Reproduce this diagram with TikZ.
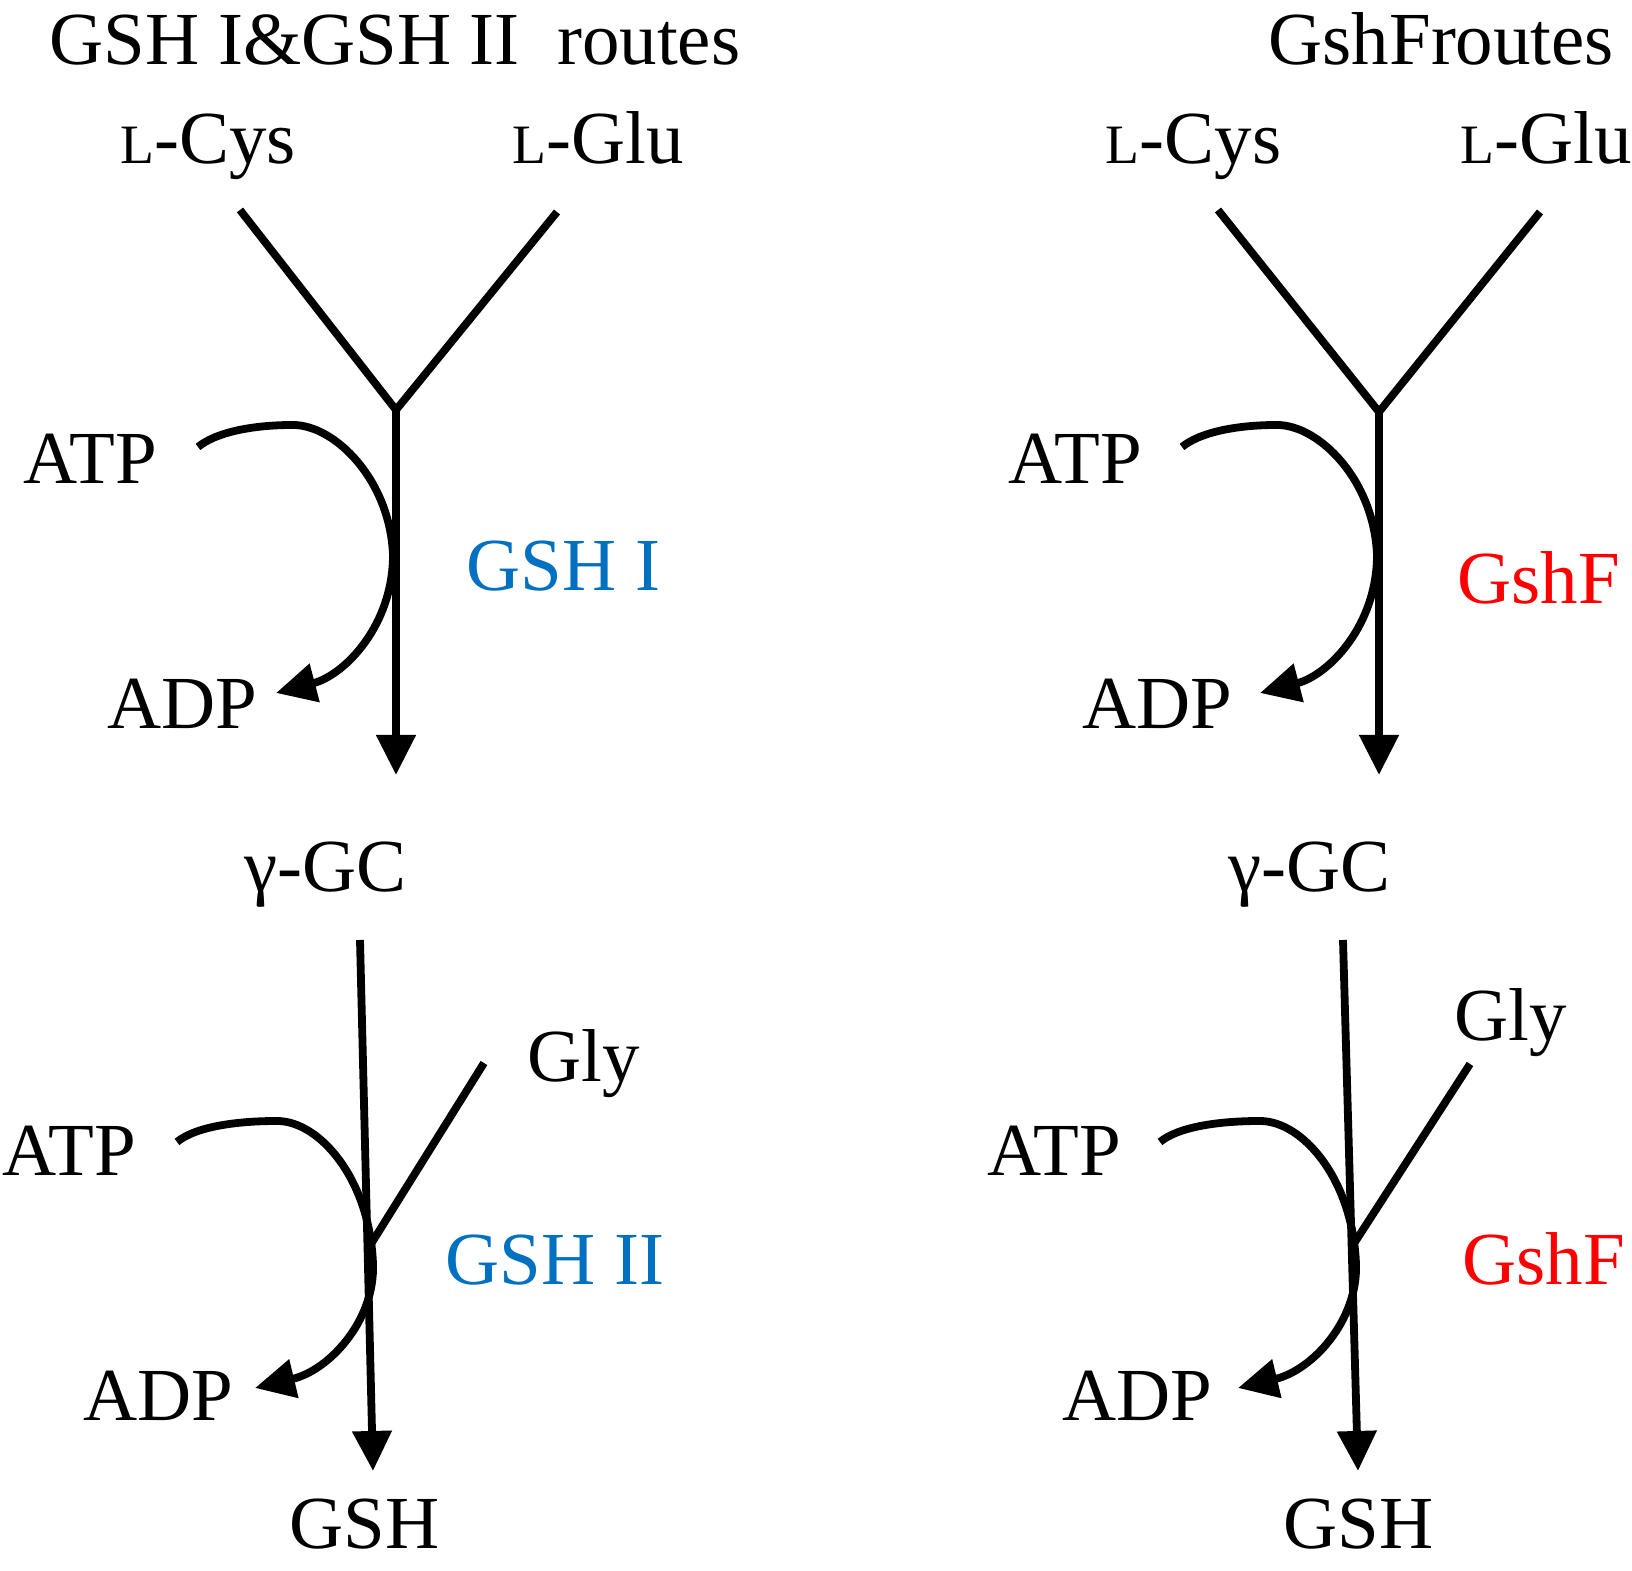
\documentclass[tikz,border=0pt]{standalone}
\usepackage{fontspec}
\setmainfont{Liberation Serif}
\usepackage{tikz}
\usetikzlibrary{arrows.meta}
\definecolor{enzblue}{RGB}{0,112,192}
\definecolor{enzred}{RGB}{255,0,0}
\newcommand{\lblfont}{\fontsize{21.3pt}{25pt}\selectfont}
\newcommand{\smallL}{{\fontsize{15.8pt}{18pt}\selectfont L}}

\begin{document}
\begin{tikzpicture}[
  x=0.01cm, y=-0.01cm,
  lbl/.style={anchor=base west, inner sep=0pt, font=\lblfont},
  enz/.style={lbl, color=#1},
  link/.style={line width=0.078cm},
  arrow/.style={link, -{Triangle[length=0.4cm, width=0.38cm]}}
]
\useasboundingbox (0,0) rectangle (1632,1571);

% --- GSH I & GSH II routes ---
\node[lbl] (title_gsh) at (49,65) {GSH I\&GSH II\ \ routes};
\node[lbl] (cys_gsh) at (120,164) {\smallL-Cys};
\node[lbl] (glu_gsh) at (512,164) {\smallL-Glu};
\coordinate (cysend_gsh) at (240,210);
\coordinate (gluend_gsh) at (557,212);
\coordinate (junc1_gsh) at (396,410);
\coordinate (tip1_gsh) at (396,775);

\node[lbl] (atp1_gsh) at (23,484) {ATP};
\node[lbl] (adp1_gsh) at (107,729) {ADP};
\node[enz=enzblue] (enz1_gsh) at (466,591) {GSH I};
\coordinate (atptail1_gsh) at (198,447);
\coordinate (adptip1_gsh) at (276,693);

\node[lbl] (gc_gsh) at (244,892) {γ-GC};
\coordinate (gctail_gsh) at (360,940);
\coordinate (tip2_gsh) at (373,1471);
\node[lbl] (gly_gsh) at (527,1082) {Gly};
\coordinate (glyend_gsh) at (484,1063);
\coordinate (junc2_gsh) at (371,1244);

\node[lbl] (atp2_gsh) at (2,1176) {ATP};
\node[lbl] (adp2_gsh) at (83,1421) {ADP};
\node[enz=enzblue] (enz2_gsh) at (445,1285) {GSH II};
\coordinate (atptail2_gsh) at (177,1142);
\coordinate (adptip2_gsh) at (255,1388);
\node[lbl] (prod_gsh) at (289,1549) {GSH};

% --- GshF routes ---
\node[lbl] (title_gshf) at (1268,65) {GshFroutes};
\node[lbl] (cys_gshf) at (1105,164) {\smallL-Cys};
\node[lbl] (glu_gshf) at (1460,164) {\smallL-Glu};
\coordinate (cysend_gshf) at (1218,210);
\coordinate (gluend_gshf) at (1540,212);
\coordinate (junc1_gshf) at (1379,412);
\coordinate (tip1_gshf) at (1379,775);

\node[lbl] (atp1_gshf) at (1008,484) {ATP};
\node[lbl] (adp1_gshf) at (1082,729) {ADP};
\node[enz=enzred] (enz1_gshf) at (1457,604) {GshF};
\coordinate (atptail1_gshf) at (1182,447);
\coordinate (adptip1_gshf) at (1260,693);

\node[lbl] (gc_gshf) at (1228,892) {γ-GC};
\coordinate (gctail_gshf) at (1343,940);
\coordinate (tip2_gshf) at (1358,1471);
\node[lbl] (gly_gshf) at (1454,1041) {Gly};
\coordinate (glyend_gshf) at (1470,1064);
\coordinate (junc2_gshf) at (1355,1242);

\node[lbl] (atp2_gshf) at (987,1176) {ATP};
\node[lbl] (adp2_gshf) at (1062,1421) {ADP};
\node[enz=enzred] (enz2_gshf) at (1462,1285) {GshF};
\coordinate (atptail2_gshf) at (1160,1142);
\coordinate (adptip2_gshf) at (1238,1388);
\node[lbl] (prod_gshf) at (1283,1549) {GSH};

% --- Connectors, left ---
\draw[link] (cysend_gsh) -- (junc1_gsh) -- (gluend_gsh);
\draw[arrow] (junc1_gsh) -- (tip1_gsh);
\draw[arrow] (atptail1_gsh) .. controls (215,433) and (250,425) .. (293,425)
  .. controls (335,425) and (390,480) .. (393,555)
  .. controls (393,625) and (345,675) .. (adptip1_gsh);
\draw[arrow] (gctail_gsh) -- (tip2_gsh);
\draw[link] (glyend_gsh) -- (junc2_gsh);
\draw[arrow] (atptail2_gsh) .. controls (195,1127) and (235,1121) .. (277,1121)
  .. controls (320,1121) and (370,1180) .. (373,1264)
  .. controls (375,1320) and (330,1370) .. (adptip2_gsh);

% --- Connectors, right ---
\draw[link] (cysend_gshf) -- (junc1_gshf) -- (gluend_gshf);
\draw[arrow] (junc1_gshf) -- (tip1_gshf);
\draw[arrow] (atptail1_gshf) .. controls (1199,433) and (1234,425) .. (1277,425)
  .. controls (1319,425) and (1374,480) .. (1377,555)
  .. controls (1377,625) and (1329,675) .. (adptip1_gshf);
\draw[arrow] (gctail_gshf) -- (tip2_gshf);
\draw[link] (glyend_gshf) -- (junc2_gshf);
\draw[arrow] (atptail2_gshf) .. controls (1178,1127) and (1218,1121) .. (1260,1121)
  .. controls (1303,1121) and (1353,1180) .. (1356,1264)
  .. controls (1358,1320) and (1313,1370) .. (adptip2_gshf);

\end{tikzpicture}
\end{document}
